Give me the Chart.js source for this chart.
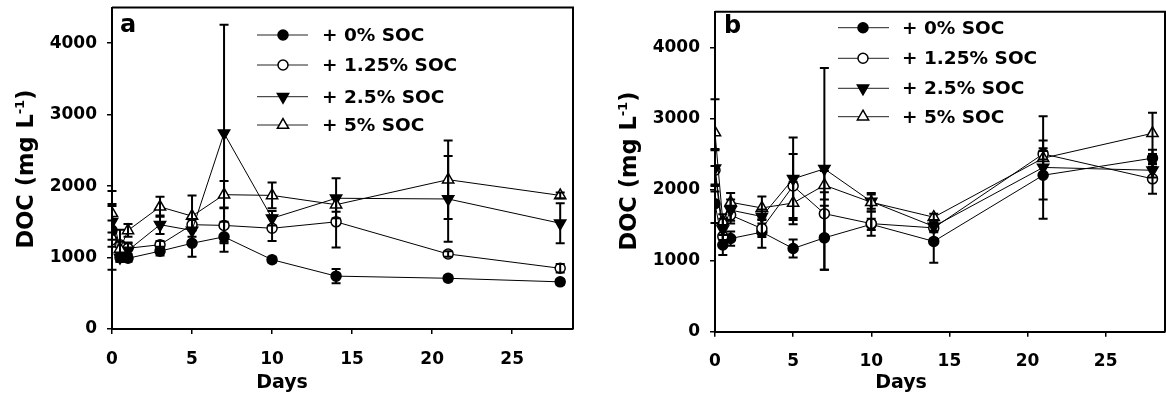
<!DOCTYPE html>
<html><head><meta charset="utf-8">
<script src="https://cdn.jsdelivr.net/npm/chart.js@4/dist/chart.umd.min.js"></script>
<style>
html,body{margin:0;padding:0;background:#fff;}
#wrap{position:relative;width:1166px;height:416px;overflow:hidden;background:#fff;}
.pane{position:absolute;top:0;width:583px;height:416px;}
</style></head><body>
<div id="wrap">
<div class="pane" style="left:0"><canvas id="ca" width="583" height="416"></canvas></div>
<div class="pane" style="left:583px"><canvas id="cb" width="583" height="416"></canvas></div>
</div>
<script>
// ---- data ----
const days = [0, 0.5, 1, 3, 5, 7, 10, 14, 21, 28];
const seriesLabels = ['+ 0% SOC', '+ 1.25% SOC', '+ 2.5% SOC', '+ 5% SOC'];
const xTicks = [0, 5, 10, 15, 20, 25];
const yTicks = [0, 1000, 2000, 3000, 4000];

// panel a
const docA_0   = [1380, 1000, 990, 1090, 1200, 1290, 970, 740, 710, 660];
const errA_0   = [550, 60, 50, 60, 190, 210, 40, 100, 40, 40];
const docA_125 = [1250, 1180, 1130, 1180, 1460, 1450, 1410, 1500, 1050, 850];
const errA_125 = [100, 210, 80, 50, 80, 250, 180, 360, 40, 60];
const docA_25  = [1500, 1000, 1100, 1460, 1380, 2740, 1550, 1830, 1820, 1480];
const errA_25  = [250, 60, 100, 130, 150, 1520, 100, 280, 600, 280];
const docA_5   = [1620, 1120, 1380, 1710, 1580, 1880, 1870, 1740, 2090, 1870];
const errA_5   = [100, 100, 90, 140, 290, 190, 180, 100, 550, 40];

// panel b
const docB_0   = [1800, 1220, 1310, 1400, 1170, 1320, 1510, 1270, 2200, 2440];
const errB_0   = [270, 140, 100, 220, 125, 450, 80, 300, 340, 120];
const docB_125 = [2270, 1340, 1640, 1450, 2050, 1660, 1520, 1460, 2500, 2150];
const errB_125 = [300, 150, 120, 120, 450, 300, 170, 60, 80, 210];
const docB_25  = [2300, 1440, 1710, 1620, 2150, 2290, 1830, 1480, 2310, 2270];
const errB_25  = [250, 150, 150, 100, 580, 1420, 100, 60, 720, 100];
const docB_5   = [2800, 1550, 1820, 1740, 1810, 2060, 1820, 1610, 2440, 2790];
const errB_5   = [470, 100, 130, 160, 300, 200, 130, 50, 250, 290];

// ---- styles ----
const FONT = '"DejaVu Sans", sans-serif';
const markerStyles = [
  {pointStyle: 'circle', radius: 5, fill: '#000', rot: 0},
  {pointStyle: 'circle', radius: 5, fill: '#fff', rot: 0},
  {pointStyle: 'triangle', radius: 6.5, fill: '#000', rot: 180},
  {pointStyle: 'triangle', radius: 6.5, fill: '#fff', rot: 0}
];

function makeDatasets(vals) {
  return vals.map((v, i) => ({
    label: seriesLabels[i],
    data: days.map((d, k) => ({x: d, y: v[k]})),
    borderColor: '#000', borderWidth: 1,
    pointStyle: markerStyles[i].pointStyle, pointRadius: markerStyles[i].radius,
    pointRotation: markerStyles[i].rot, pointBackgroundColor: markerStyles[i].fill,
    pointBorderColor: '#000', pointBorderWidth: 1.5, order: 4 - i, tension: 0
  }));
}

const decorPlugin = {
  id: 'decor',
  afterDatasetsDraw(chart) {
    const cfg = chart.options.plugins.decor;
    const ctx = chart.ctx; const ys = chart.scales.y;
    ctx.save(); ctx.strokeStyle = '#000'; ctx.lineWidth = 2;
    chart.data.datasets.forEach((ds, i) => {
      const meta = chart.getDatasetMeta(i); const errs = cfg.errors[i];
      meta.data.forEach((pt, k) => {
        const v = ds.data[k].y, e = errs[k];
        const yt = ys.getPixelForValue(v + e), yb = ys.getPixelForValue(v - e);
        ctx.beginPath();
        ctx.moveTo(pt.x, yt); ctx.lineTo(pt.x, yb);
        ctx.moveTo(pt.x - 4.5, yt); ctx.lineTo(pt.x + 4.5, yt);
        ctx.moveTo(pt.x - 4.5, yb); ctx.lineTo(pt.x + 4.5, yb);
        ctx.stroke();
      });
    });
    ctx.restore();
  },
  afterDraw(chart) {
    const cfg = chart.options.plugins.decor;
    const ctx = chart.ctx; const a = chart.chartArea;
    ctx.save();
    ctx.strokeStyle = '#000'; ctx.lineWidth = 2;
    ctx.beginPath();
    ctx.moveTo(a.left, a.top); ctx.lineTo(a.right, a.top); ctx.lineTo(a.right, a.bottom);
    ctx.stroke();
    ctx.fillStyle = '#000';
    ctx.font = 'bold 24px ' + FONT;
    ctx.textAlign = 'left'; ctx.textBaseline = 'alphabetic';
    ctx.fillText(cfg.letter.text, cfg.letter.x, cfg.letter.y);
    ctx.font = 'bold 19px ' + FONT;
    ctx.textAlign = 'center';
    ctx.fillText('Days', cfg.xTitle.x, cfg.xTitle.y);
    ctx.translate(cfg.yTitle.x, cfg.yTitle.y);
    ctx.rotate(-Math.PI / 2);
    const main = 'DOC (mg L', sup = '-1', tail = ')';
    ctx.font = 'bold 22.5px ' + FONT;
    const w1 = ctx.measureText(main).width, w3 = ctx.measureText(tail).width;
    ctx.font = 'bold 13px ' + FONT;
    const w2 = ctx.measureText(sup).width;
    let x0 = -(w1 + w2 + w3) / 2;
    ctx.textAlign = 'left'; ctx.textBaseline = 'alphabetic';
    ctx.font = 'bold 22.5px ' + FONT; ctx.fillText(main, x0, 8);
    ctx.font = 'bold 13px ' + FONT; ctx.fillText(sup, x0 + w1, -1);
    ctx.font = 'bold 22.5px ' + FONT; ctx.fillText(tail, x0 + w1 + w2, 8);
    ctx.restore();
    const L = cfg.legend;
    ctx.save();
    L.rows.forEach((ry, i) => {
      ctx.strokeStyle = '#222'; ctx.lineWidth = 1;
      ctx.beginPath(); ctx.moveTo(L.x1, ry); ctx.lineTo(L.x2, ry); ctx.stroke();
      const m = markerStyles[i];
      ctx.fillStyle = m.fill; ctx.strokeStyle = '#000'; ctx.lineWidth = 1.5;
      Chart.helpers.drawPoint(ctx, {pointStyle: m.pointStyle, radius: m.radius, rotation: m.rot, borderWidth: 1.5}, L.xm, ry);
      ctx.fillStyle = '#000'; ctx.font = 'bold 18.5px ' + FONT;
      ctx.textAlign = 'left'; ctx.textBaseline = 'middle';
      ctx.fillText(seriesLabels[i], L.tx, ry + 1);
    });
    ctx.restore();
  }
};

function makeChart(id, vals, errs, P) {
  return new Chart(document.getElementById(id), {
    type: 'line',
    data: {datasets: makeDatasets(vals)},
    plugins: [decorPlugin],
    options: {
      responsive: false, animation: false, events: [],
      layout: {autoPadding: false, padding: {left: 0, top: P.top, right: P.right, bottom: 0}},
      plugins: {legend: {display: false}, tooltip: {enabled: false},
        decor: {errors: errs, letter: P.letter, xTitle: P.xTitle, yTitle: P.yTitle, legend: P.legend}},
      scales: {
        x: {type: 'linear', min: 0, max: 28.8,
          afterBuildTicks: s => { s.ticks = xTicks.map(v => ({value: v})); },
          afterFit: s => { s.height = P.xH; s.paddingLeft = 0; s.paddingRight = 0; },
          ticks: {color: '#000', font: {family: FONT, size: 17, weight: 'bold'}, padding: 15, maxRotation: 0, includeBounds: false, callback: v => String(v)},
          grid: {drawOnChartArea: false, drawTicks: true, tickLength: 5, color: '#000', lineWidth: 1.5},
          border: {display: true, color: '#000', width: 2}},
        y: {type: 'linear', min: 0, max: 4500,
          afterBuildTicks: s => { s.ticks = yTicks.map(v => ({value: v})); },
          afterFit: s => { s.width = P.yW; s.paddingTop = 0; s.paddingBottom = 0; },
          ticks: {color: '#000', font: {family: FONT, size: 17, weight: 'bold'}, padding: 10, includeBounds: false, callback: v => String(v)},
          grid: {drawOnChartArea: false, drawTicks: true, tickLength: 5, color: '#000', lineWidth: 1.5},
          border: {display: true, color: '#000', width: 2}}
      }
    }
  });
}

makeChart('ca', [docA_0, docA_125, docA_25, docA_5], [errA_0, errA_125, errA_25, errA_5], {
  yW: 112, top: 7.5, right: 10, xH: 87,
  letter: {text: 'a', x: 120, y: 32}, xTitle: {x: 282, y: 388}, yTitle: {x: 25, y: 169},
  legend: {x1: 257, x2: 308, xm: 283, tx: 322, rows: [35, 65, 96.7, 125]}
});
makeChart('cb', [docB_0, docB_125, docB_25, docB_5], [errB_0, errB_125, errB_25, errB_5], {
  yW: 132, top: 11.7, right: 1, xH: 84.3,
  letter: {text: 'b', x: 141, y: 33}, xTitle: {x: 318, y: 388}, yTitle: {x: 45, y: 171},
  legend: {x1: 255, x2: 306, xm: 280, tx: 319, rows: [27.7, 58.3, 88.3, 116.7]}
});
</script>
</body></html>
